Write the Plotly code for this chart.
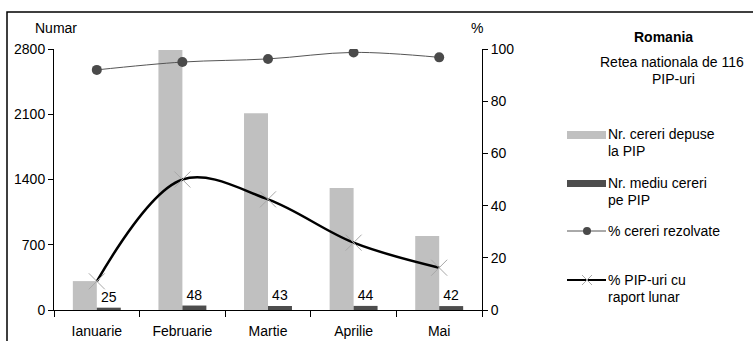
import plotly.graph_objects as go

months = ["Ianuarie", "Februarie", "Martie", "Aprilie", "Mai"]
cereri_depuse = [310, 2790, 2110, 1310, 795]
mediu_cereri = [25, 48, 43, 44, 42]
pct_rezolvate = [92, 95, 96.2, 98.7, 96.8]
pct_raport = [11, 50, 42.4, 25.8, 16.2]
left_ticks = [0, 700, 1400, 2100, 2800]
right_ticks = [0, 20, 40, 60, 80, 100]

FONT = "Liberation Sans, Arial, sans-serif"
W, H = 753, 341
L, R, T, B = 54, 482, 49, 310


def px(x):
    return (x - L) / (R - L)


def py(y):
    return (B - y) / (B - T)


fig = go.Figure()
fig.add_trace(go.Bar(x=months, y=cereri_depuse, name="Nr. cereri depuse la PIP",
                     marker=dict(color="#C0C0C0", line=dict(width=0)), yaxis="y"))
fig.add_trace(go.Bar(x=months, y=mediu_cereri, name="Nr. mediu cereri pe PIP",
                     marker=dict(color="#4D4D4D", line=dict(width=0)), yaxis="y",
                     text=[str(v) for v in mediu_cereri], textposition="outside",
                     textfont=dict(family=FONT, size=14, color="black"),
                     cliponaxis=False))
fig.add_trace(go.Scatter(x=months, y=pct_rezolvate, name="% cereri rezolvate", yaxis="y2",
                         mode="lines+markers", line=dict(color="#555555", width=1, shape="spline"),
                         marker=dict(color="#4A4A4A", size=10, symbol="circle")))
fig.add_trace(go.Scatter(x=months, y=pct_raport, name="% PIP-uri cu raport lunar", yaxis="y2",
                         mode="lines+markers", line=dict(color="black", width=2.5, shape="spline"),
                         marker=dict(color="#A8A8A8", size=16, symbol="x-thin",
                                     line=dict(color="#A8A8A8", width=1))))

shapes = []
# outer frame (top and left visible)
shapes.append(dict(type="rect", xref="paper", yref="paper", x0=px(7), x1=px(800), y0=py(400), y1=py(12),
                   line=dict(color="black", width=1.5), layer="below"))
# legend swatches
shapes.append(dict(type="rect", xref="paper", yref="paper", x0=px(567), x1=px(606), y0=py(139), y1=py(131),
                   fillcolor="#C0C0C0", line=dict(width=0)))
shapes.append(dict(type="rect", xref="paper", yref="paper", x0=px(567), x1=px(606), y0=py(187), y1=py(180),
                   fillcolor="#4D4D4D", line=dict(width=0)))
shapes.append(dict(type="line", xref="paper", yref="paper", x0=px(567), x1=px(606), y0=py(231), y1=py(231),
                   line=dict(color="#555555", width=1)))
shapes.append(dict(type="circle", xref="paper", yref="paper", x0=px(583), x1=px(591), y0=py(235), y1=py(227),
                   fillcolor="#4A4A4A", line=dict(width=0)))
shapes.append(dict(type="line", xref="paper", yref="paper", x0=px(567), x1=px(606), y0=py(280), y1=py(280),
                   line=dict(color="black", width=2)))
shapes.append(dict(type="line", xref="paper", yref="paper", x0=px(582), x1=px(592), y0=py(285), y1=py(275),
                   line=dict(color="#A8A8A8", width=1)))
shapes.append(dict(type="line", xref="paper", yref="paper", x0=px(582), x1=px(592), y0=py(275), y1=py(285),
                   line=dict(color="#A8A8A8", width=1)))

ann = []


def text(t, x, y, xanchor="left", bold=False):
    ann.append(dict(text=f"<b>{t}</b>" if bold else t, xref="paper", yref="paper", x=px(x), y=py(y),
                    xanchor=xanchor, yanchor="middle", showarrow=False,
                    font=dict(family=FONT, size=14, color="black")))


text("Numar", 56, 28, "center")
text("%", 477, 28, "center")
text("Romania", 663, 37, "center", bold=True)
text("Retea nationala de 116", 672, 62, "center")
text("PIP-uri", 673, 79, "center")
text("Nr. cereri depuse", 606, 134)
text("la PIP", 606, 151)
text("Nr. mediu cereri", 606, 183)
text("pe PIP", 606, 200)
text("% cereri rezolvate", 606, 231)
text("% PIP-uri cu", 606, 280)
text("raport lunar", 606, 297)

fig.update_layout(
    width=W, height=H,
    margin=dict(l=L, r=W - R, t=T, b=H - B, pad=0, autoexpand=False),
    paper_bgcolor="white", plot_bgcolor="white",
    showlegend=False,
    barmode="group", bargap=0.44, bargroupgap=0,
    font=dict(family=FONT, size=14, color="black"),
    xaxis=dict(type="category", showline=True, linecolor="black", linewidth=1,
               ticks="outside", tickson="boundaries", ticklen=6, tickcolor="black",
               ticklabelstandoff=8, automargin=False,
               showgrid=False, zeroline=False, tickfont=dict(size=14)),
    yaxis=dict(range=[0, 2800], tickvals=left_ticks, showline=True, linecolor="black", linewidth=1,
               ticks="outside", ticklen=5, tickcolor="black", showgrid=False, zeroline=False,
               automargin=False, tickfont=dict(size=14)),
    yaxis2=dict(range=[0, 100], tickvals=right_ticks, overlaying="y", side="right", anchor="x",
                showline=True, linecolor="black", linewidth=1, ticks="outside", ticklen=5,
                tickcolor="black", showgrid=False, zeroline=False, automargin=False,
                tickfont=dict(size=14)),
    shapes=shapes, annotations=ann,
)

fig.write_html("out.html", config={"displayModeBar": False},
               post_script="document.body.style.margin='0px';document.body.style.overflow='hidden';")
